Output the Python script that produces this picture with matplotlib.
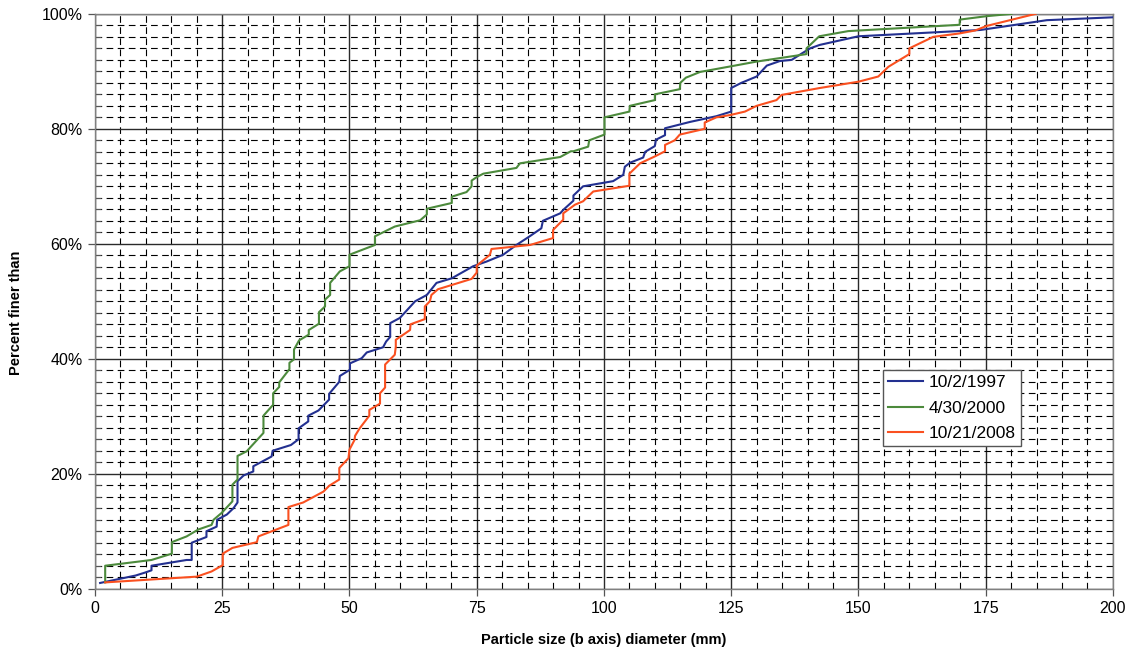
import matplotlib.pyplot as plt
from matplotlib.ticker import MultipleLocator, FuncFormatter

plt.rcParams['font.family'] = ['Liberation Sans', 'DejaVu Sans']

# Cumulative grain size curves
x_1997 = [1, 8, 9.8, 11.1, 11.1, 18, 19, 19, 21.9, 21.9, 23.9, 24, 25.9, 27.2, 28, 28,
          29.2, 31.1, 31.1, 34.7, 34.9, 38.5, 40, 40, 41.9, 41.9, 43.9, 46, 46, 48, 48.1,
          50.1, 50.1, 52.4, 53.4, 56.6, 57.2, 58, 58, 59.9, 62.9, 65.2, 67.1, 70.1, 74.3,
          76.9, 80.2, 82.8, 85.4, 87.7, 88, 91.4, 92, 94, 94, 95.9, 101.8, 103.8, 104.1,
          105.1, 107.7, 108.1, 110, 110.2, 112, 112, 116.9, 122.1, 125, 125, 127, 130,
          132, 134.6, 136.9, 138.5, 140.5, 142.4, 150, 174, 187, 200]
y_1997 = [1.0, 2.3, 2.8, 3.2, 4.0, 5.0, 5.0, 8.0, 9.0, 10.0, 10.8, 12.0, 12.9, 14.0, 15.0, 18.7,
          19.7, 20.4, 21.3, 23.0, 24.0, 25.0, 26.0, 27.9, 29.1, 30.1, 31.0, 32.9, 33.9, 36.0, 37.0,
          38.1, 39.2, 40.1, 41.1, 42.0, 43.0, 43.8, 46.2, 47.1, 50.0, 51.1, 53.2, 54.0, 56.1,
          56.9, 58.1, 59.8, 61.3, 62.7, 64.0, 65.3, 65.9, 67.5, 68.4, 70.0, 70.9, 72.0, 73.4,
          74.1, 75.0, 76.0, 77.0, 78.1, 78.9, 80.1, 81.2, 82.2, 83.0, 87.1, 88.0, 89.1,
          91.0, 91.8, 92.0, 92.9, 94.0, 94.6, 96.1, 97.2, 98.9, 99.4]

x_2000 = [2, 2, 11.1, 15.1, 15.1, 18, 20.3, 22.9, 23.3, 24.9, 27, 27, 28, 28, 29.8, 33.1,
          33.1, 35, 35, 36.2, 36.2, 38.2, 38.2, 39.1, 39.1, 40.1, 42, 42, 44, 44, 45.2, 45.2,
          46.2, 46.2, 48.1, 50, 50, 55, 55, 58.9, 63.9, 65.2, 65.2, 70.1, 70.1, 73, 74, 74,
          75, 76.3, 82.8, 83.5, 90, 91.4, 93.5, 94, 96.9, 97.1, 100.1, 100.1, 105, 105.1,
          110, 110, 114.9, 115, 116.1, 118.9, 125.1, 130, 139.8, 139.8, 142.3, 148, 169.9,
          169.9, 175.2, 180.1]
y_2000 = [1.1, 4.0, 5.0, 6.1, 8.1, 9.1, 10.3, 11.1, 12.0, 13.2, 15.2, 18.1, 19.0, 23.1, 23.9, 27.1,
          30.1, 32.0, 34.0, 35.1, 35.9, 38.2, 39.3, 39.9, 41.6, 43.2, 44.2, 45.0, 46.1, 48.1, 49.1, 50.3,
          51.1, 53.2, 55.2, 56.1, 58.1, 59.8, 61.3, 63.0, 64.1, 65.1, 66.1, 67.1, 68.2, 69.0, 70.0, 71.0,
          71.6, 72.2, 73.2, 74.0, 74.9, 75.1, 76.1, 76.1, 76.9, 78.0, 79.0, 82.0, 83.0, 84.0,
          85.0, 86.0, 86.9, 88.0, 88.9, 89.9, 90.9, 91.7, 93.0, 94.0, 96.1, 97.0, 98.1,
          99.0, 99.6, 100.0]

x_2008 = [2, 20, 22.9, 25.1, 25.1, 27, 31.8, 32.1, 38, 38, 40.9, 44.9, 46, 48, 48, 49.8, 50,
          51, 51.1, 52, 53.9, 53.9, 56, 56, 57, 57, 58.9, 59.1, 59.1, 61.9, 62, 64.8, 64.8, 65.8,
          66.1, 67.4, 74, 75, 75, 77.6, 77.9, 85.5, 90, 90, 92, 92, 94.3, 95.9, 97.9, 105,
          105, 107.1, 110, 112, 112, 113.9, 114.9, 119.8, 119.8, 122.1, 124.8, 127.7, 130,
          133.9, 134.9, 142.4, 150, 153.9, 155.9, 160, 160, 164.7, 169.9, 172.9, 175.2, 184.8]
y_2008 = [1.1, 2.1, 3.0, 4.1, 6.1, 7.1, 8.1, 9.1, 11.1, 14.2, 15.0, 16.9, 17.9, 19.0, 21.0, 22.7, 24.2,
          25.9, 26.6, 27.9, 30.1, 31.1, 32.2, 34.0, 35.0, 39.0, 40.7, 42.1, 43.3, 45.0, 46.0, 46.9, 49.1, 50.0,
          51.1, 52.1, 53.9, 55.0, 56.2, 58.1, 59.1, 59.8, 61.0, 62.4, 64.2, 65.3, 66.8, 67.4, 69.1, 70.1,
          72.2, 74.0, 75.2, 76.1, 77.2, 78.0, 79.0, 80.0, 81.1, 82.0, 82.4, 83.0, 84.0,
          85.0, 85.9, 87.1, 88.2, 89.1, 90.8, 93.0, 94.0, 96.0, 96.6, 97.1, 97.9, 100.0]

series_labels = ['10/2/1997', '4/30/2000', '10/21/2008']
series_colors = ['#233090', '#4C8A3C', '#FA5020']

fig, ax = plt.subplots(figsize=(11.31, 6.6), dpi=100)
fig.subplots_adjust(left=0.084, right=0.984, bottom=0.108, top=0.979)

for xs, ys, lab, col in zip([x_1997, x_2000, x_2008], [y_1997, y_2000, y_2008],
                            series_labels, series_colors):
    ax.plot(xs, ys, color=col, lw=1.5, label=lab, zorder=3)

ax.set_xlim(0, 200)
ax.set_ylim(0, 100)

# major grid solid, minor grid dashed (every 5 mm / 2 %)
ax.xaxis.set_major_locator(MultipleLocator(25))
ax.yaxis.set_major_locator(MultipleLocator(20))
ax.xaxis.set_minor_locator(MultipleLocator(5))
ax.yaxis.set_minor_locator(MultipleLocator(2))
ax.yaxis.set_major_formatter(FuncFormatter(lambda v, p: '%d%%' % v))
ax.grid(which='major', color='#2a2a2a', lw=1.0, ls='-', zorder=1)
ax.grid(which='minor', color='black', lw=0.8, ls=(0, (6, 4)), zorder=1)
ax.set_axisbelow(True)

ax.tick_params(which='major', direction='out', length=5, width=0.9, color='#555555',
               labelsize=11.5, pad=4)
ax.tick_params(axis='y', which='minor', direction='in', length=4, width=0.8, color='#555555')
ax.tick_params(axis='x', which='minor', length=0)
for s in ax.spines.values():
    s.set_color('#808080')
    s.set_linewidth(1.0)

ax.set_xlabel('Particle size (b axis) diameter (mm)', fontsize=10.5, fontweight='bold', labelpad=12)
ax.set_ylabel('Percent finer than', fontsize=10.5, fontweight='bold', labelpad=14)
ax.yaxis.set_label_coords(-0.071, 0.48)

leg = ax.legend(loc='upper left', bbox_to_anchor=(0.774, 0.381), fontsize=12.5, frameon=True,
                fancybox=False, framealpha=1, edgecolor='#555555', borderpad=0.3,
                handlelength=2.0, handletextpad=0.35, labelspacing=0.6, borderaxespad=0)
leg.get_frame().set_linewidth(1.0)

fig.savefig('out.png', dpi=100)
